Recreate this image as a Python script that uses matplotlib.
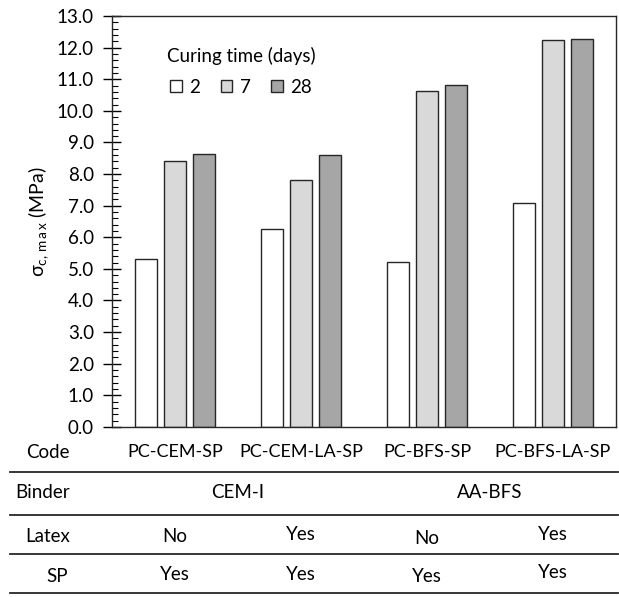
import numpy as np
import matplotlib
matplotlib.use("Agg")
import matplotlib.pyplot as plt
from matplotlib import transforms
from matplotlib.lines import Line2D
from matplotlib.ticker import MultipleLocator

plt.rcParams['font.family'] = ['Lato', 'DejaVu Sans']
plt.rcParams['mathtext.fontset'] = 'custom'
plt.rcParams['mathtext.rm'] = 'Lato'
plt.rcParams['mathtext.it'] = 'Lato'

# data
codes = ['PC-CEM-SP', 'PC-CEM-LA-SP', 'PC-BFS-SP', 'PC-BFS-LA-SP']
days = ['2', '7', '28']
sigma_2 = [5.32, 6.26, 5.21, 7.10]
sigma_7 = [8.40, 7.82, 10.64, 12.25]
sigma_28 = [8.63, 8.60, 10.82, 12.28]
binder = ['CEM-I', 'AA-BFS']
latex = ['No', 'Yes', 'No', 'Yes']
sp = ['Yes', 'Yes', 'Yes', 'Yes']

colors = ['white', '#d9d9d9', '#a6a6a6']

fig = plt.figure(figsize=(6.19, 5.97), dpi=100)
ax = fig.add_axes([0.181, 0.285, 0.814, 0.688])

x = np.arange(len(codes))
w = 0.175
step = 0.232
for i, (vals, c) in enumerate(zip([sigma_2, sigma_7, sigma_28], colors)):
    ax.bar(x + (i - 1) * step, vals, w, color=c, edgecolor='#262626',
           linewidth=1.0, label=days[i])

ax.set_xlim(-0.5, 3.5)
ax.set_ylim(0, 13)
ax.yaxis.set_major_locator(MultipleLocator(1.0))
ax.yaxis.set_minor_locator(MultipleLocator(0.2))
ax.yaxis.set_major_formatter(lambda v, p: f'{v:.1f}')
ax.tick_params(axis='y', which='major', direction='inout', length=13,
               width=1.0, labelsize=13.5, pad=6.5)
ax.tick_params(axis='y', which='minor', direction='in', length=4, width=0.8)
ax.set_xticks(x)
ax.set_xticklabels(codes)
ax.tick_params(axis='x', length=0, labelsize=13, pad=12)
for s in ax.spines.values():
    s.set_color('#262626')
    s.set_linewidth(1.0)

ax.set_ylabel(r'$\sigma_{\mathregular{c,\,m\,a\,x}}$ (MPa)', fontsize=14, labelpad=4)

leg = ax.legend(title='Curing time (days)', ncol=3, frameon=False,
                loc='upper left', bbox_to_anchor=(0.075, 0.965), fontsize=13.5,
                title_fontsize=13.5, handlelength=0.62, handleheight=0.62,
                handletextpad=0.4, columnspacing=1.1, labelspacing=0.7)

# table below the axes
trans = transforms.blended_transform_factory(ax.transData, fig.transFigure)
fs = 13.5
fig.text(48 / 619, 1 - 453 / 597, 'Code', ha='center', va='center', fontsize=fs)
fig.text(43 / 619, 1 - 493 / 597, 'Binder', ha='center', va='center', fontsize=fs)
fig.text(48 / 619, 1 - 536 / 597, 'Latex', ha='center', va='center', fontsize=fs)
fig.text(57 / 619, 1 - 577 / 597, 'SP', ha='center', va='center', fontsize=fs)

ax.text(0.5, 1 - 493 / 597, binder[0], transform=trans, ha='center', va='center', fontsize=fs)
ax.text(2.5, 1 - 493 / 597, binder[1], transform=trans, ha='center', va='center', fontsize=fs)
latex_y = [536, 534, 539, 534]
sp_y = [574, 574, 576, 573]
for i in range(len(codes)):
    ax.text(x[i], 1 - latex_y[i] / 597, latex[i], transform=trans, ha='center', va='center', fontsize=fs)
    ax.text(x[i], 1 - sp_y[i] / 597, sp[i], transform=trans, ha='center', va='center', fontsize=fs)

for yy in [472, 515, 554, 593]:
    fig.add_artist(Line2D([10 / 619, 618 / 619], [1 - yy / 597, 1 - yy / 597],
                          color='#262626', linewidth=1.3))

fig.savefig('out.png', dpi=100)
